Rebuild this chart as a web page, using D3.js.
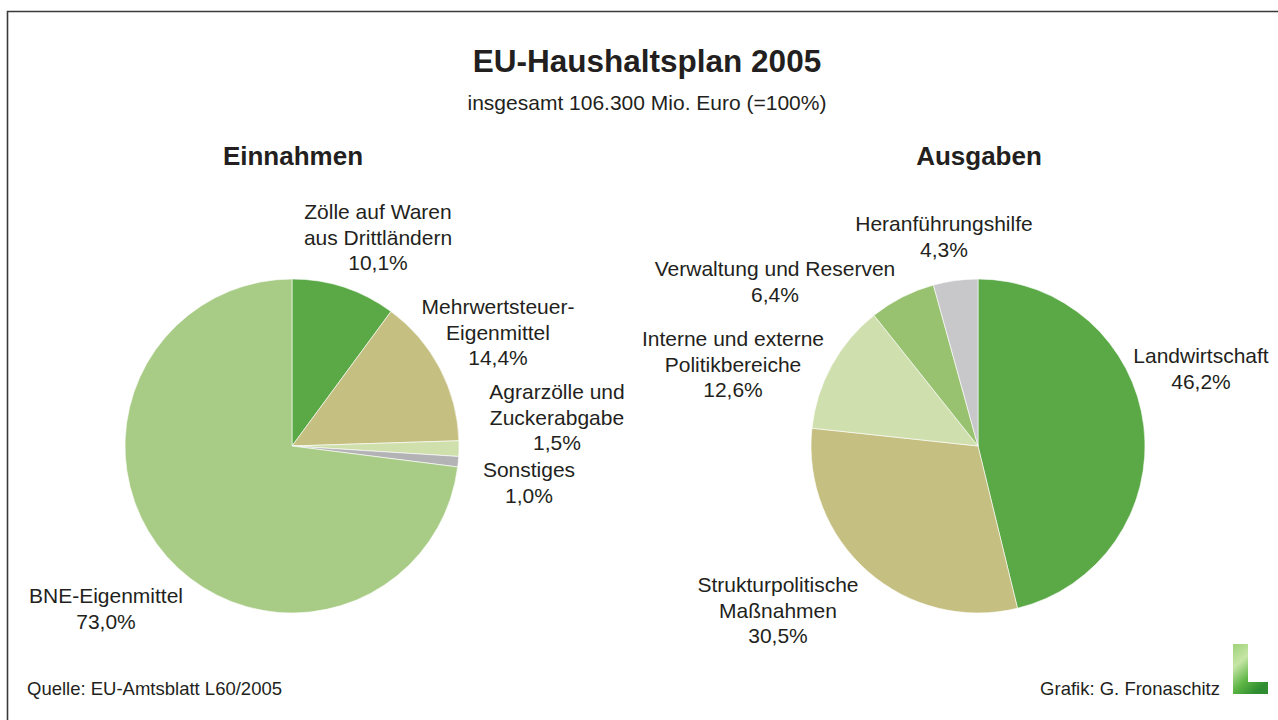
<!DOCTYPE html>
<html>
<head>
<meta charset="utf-8">
<script src="https://cdn.jsdelivr.net/npm/d3@7"></script>
<style>
  html, body { margin: 0; padding: 0; background: #fff; }
  svg { display: block; }
  text { font-family: "Liberation Sans", Arial, sans-serif; fill: #231f20; }
</style>
</head>
<body>
<svg id="chart" width="1278" height="720"></svg>
<script>
// Revenue side (Einnahmen), clockwise from 12 o'clock
const incomeNames = [
  ["Zölle auf Waren", "aus Drittländern"],
  ["Mehrwertsteuer-", "Eigenmittel"],
  ["Agrarzölle und", "Zuckerabgabe"],
  ["Sonstiges"],
  ["BNE-Eigenmittel"]
];
const incomeValues = [10.1, 14.4, 1.5, 1.0, 73.0];

// Expenditure side (Ausgaben), clockwise from 12 o'clock
const expenseNames = [
  ["Landwirtschaft"],
  ["Strukturpolitische", "Maßnahmen"],
  ["Interne und externe", "Politikbereiche"],
  ["Verwaltung und Reserven"],
  ["Heranführungshilfe"]
];
const expenseValues = [46.2, 30.5, 12.6, 6.4, 4.3];

const incomeColors = ["#5aa846", "#c5c081", "#d0e0ad", "#b3b3b5", "#a8cc86"];
const expenseColors = ["#5aa846", "#c5c081", "#d0dfae", "#98c270", "#c8c8ca"];

// Label anchor points (centre of first text line), per slice
const incomeLabelPos = [[378, 212], [498, 307], [557, 392], [529, 470], [106, 596]];
const expenseLabelPos = [[1201, 356], [778, 585], [733, 339], [775, 269], [944, 224]];

const svg = d3.select("#chart");
const fmt = v => d3.format(".1f")(v).replace(".", ",") + "%";

// frame (top and left edges)
svg.append("path")
  .attr("d", "M7.5,720 L7.5,11.5 L1278,11.5")
  .attr("fill", "none").attr("stroke", "#3a3a3a").attr("stroke-width", 1.6);

// titles
svg.append("text").attr("x", 647).attr("y", 72).attr("text-anchor", "middle")
  .attr("font-size", 31.5).attr("font-weight", "bold").text("EU-Haushaltsplan 2005");
svg.append("text").attr("x", 647).attr("y", 110).attr("text-anchor", "middle")
  .attr("font-size", 21).text("insgesamt 106.300 Mio. Euro (=100%)");

const pie = d3.pie().sort(null).value(d => d);
const R = 167;
const arc = d3.arc().innerRadius(0).outerRadius(R);

function drawPie(cx, cy, title, names, values, colors, labelPos) {
  const g = svg.append("g");
  g.append("text").attr("x", cx + 1).attr("y", 165).attr("text-anchor", "middle")
    .attr("font-size", 26).attr("font-weight", "bold").text(title);

  const slices = g.append("g").attr("transform", `translate(${cx},${cy})`);
  slices.selectAll("path").data(pie(values)).join("path")
    .attr("d", arc)
    .attr("fill", (d, i) => colors[i])
    .attr("stroke", "#ffffff").attr("stroke-width", 0.6);

  values.forEach((v, i) => {
    const lines = names[i].concat([fmt(v)]);
    const t = g.append("text").attr("text-anchor", "middle").attr("font-size", 21);
    lines.forEach((s, k) => {
      t.append("tspan").attr("x", labelPos[i][0])
        .attr("y", labelPos[i][1] + 7 + k * 25.5).text(s);
    });
  });
}

drawPie(292, 446, "Einnahmen", incomeNames, incomeValues, incomeColors, incomeLabelPos);
drawPie(978, 446, "Ausgaben", expenseNames, expenseValues, expenseColors, expenseLabelPos);

// footer
svg.append("text").attr("x", 27).attr("y", 695).attr("font-size", 18.5)
  .text("Quelle: EU-Amtsblatt L60/2005");
svg.append("text").attr("x", 1220).attr("y", 695).attr("text-anchor", "end").attr("font-size", 18.5)
  .text("Grafik: G. Fronaschitz");

// "L" logo with a leafy green gradient
const defs = svg.append("defs");
const grad = defs.append("linearGradient").attr("id", "leaf")
  .attr("x1", "0").attr("y1", "0").attr("x2", "0.6").attr("y2", "1");
[["0", "#9fd27a"], ["0.35", "#c6e6a6"], ["0.7", "#5cb544"], ["1", "#2f8c30"]]
  .forEach(([o, c]) => grad.append("stop").attr("offset", o).attr("stop-color", c));
svg.append("path")
  .attr("d", "M1233,644 L1248,644 L1248,682 L1268,682 L1268,694 L1233,694 Z")
  .attr("fill", "url(#leaf)");
</script>
</body>
</html>
